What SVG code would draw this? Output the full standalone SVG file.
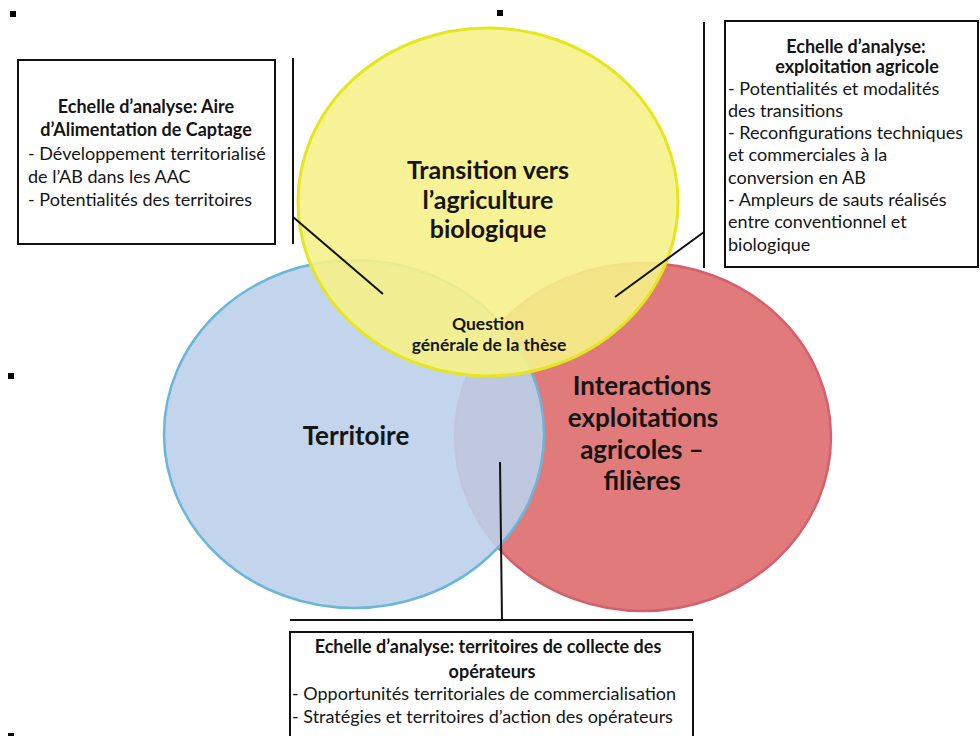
<svg xmlns="http://www.w3.org/2000/svg" width="980" height="736" viewBox="0 0 980 736">
<style>
.box{fill:#fff;stroke:#111;stroke-width:2}
.ln{stroke:#111;stroke-width:2;fill:none}
.t{font-family:Lato,"Open Sans","Liberation Sans",sans-serif;fill:#151515}
.h{font-size:18px;font-weight:bold;text-anchor:middle}
.b{font-size:18px}
.big{font-size:26px;font-weight:bold;text-anchor:middle}
.q{font-size:17.5px;font-weight:bold;text-anchor:middle}
.mk{fill:#000}
</style>
<rect width="980" height="736" fill="#fff"/>
<g id="markers">
<rect class="mk" x="10" y="11" width="6" height="6"/>
<rect class="mk" x="497" y="10" width="6" height="6"/>
<rect class="mk" x="8" y="373" width="6" height="6"/>
<rect class="mk" x="8" y="733" width="6" height="3"/>
<rect class="mk" x="498" y="733" width="5" height="3"/>
</g>
<g id="circle-filieres">
<ellipse cx="643" cy="437" rx="188" ry="174" fill="#e07a7b" stroke="#d4606e" stroke-width="2.5"/>
</g>
<g id="circle-territoire">
<ellipse cx="354" cy="434" rx="190" ry="174" fill="#bdd0ea" fill-opacity="0.9" stroke="#6ab6d8" stroke-width="2.5"/>
</g>
<g id="circle-transition">
<ellipse cx="488" cy="202" rx="190" ry="174" fill="#f6f18a" fill-opacity="0.9" stroke="#e6e61e" stroke-width="3"/>
</g>
<g id="connectors">
<line class="ln" x1="293" y1="58" x2="293" y2="244"/>
<line class="ln" x1="293" y1="217" x2="383" y2="294"/>
<line class="ln" x1="704" y1="22" x2="704" y2="268"/>
<line class="ln" x1="704" y1="232" x2="615" y2="297"/>
<line class="ln" x1="500" y1="462" x2="502" y2="620"/>
<line class="ln" x1="290" y1="620" x2="693" y2="620"/>
</g>
<g id="label-transition" class="t big" style="font-size:25px">
<text x="488" y="179">Transition vers</text>
<text x="488" y="209">l’agriculture</text>
<text x="488" y="238">biologique</text>
</g>
<g id="label-question" class="t q">
<text x="488" y="330">Question</text>
<text x="489" y="351">générale de la thèse</text>
</g>
<g id="label-territoire" class="t big">
<text x="356" y="445">Territoire</text>
</g>
<g id="label-filieres" class="t big">
<text x="642" y="395">Interactions</text>
<text x="643" y="427">exploitations</text>
<text x="642" y="459">agricoles –</text>
<text x="642" y="490">filières</text>
</g>
<g id="box-aac">
<rect class="box" x="18" y="60" width="257" height="184"/>
<g class="t">
<text class="h" x="146" y="113">Echelle d’analyse: Aire</text>
<text class="h" x="146" y="136">d’Alimentation de Captage</text>
<text class="b" x="28" y="160">- Développement territorialisé</text>
<text class="b" x="28" y="183">de l’AB dans les AAC</text>
<text class="b" x="28" y="206">- Potentialités des territoires</text>
</g>
</g>
<g id="box-exploitation">
<rect class="box" x="725" y="21" width="253" height="246"/>
<g class="t">
<text class="h" x="856" y="53">Echelle d’analyse:</text>
<text class="h" x="857" y="73">exploitation agricole</text>
<text class="b" x="728" y="95">- Potentialités et modalités</text>
<text class="b" x="728" y="117">des transitions</text>
<text class="b" x="728" y="139">- Reconfigurations techniques</text>
<text class="b" x="728" y="161">et commerciales à la</text>
<text class="b" x="728" y="184">conversion en AB</text>
<text class="b" x="728" y="206">- Ampleurs de sauts réalisés</text>
<text class="b" x="728" y="228">entre conventionnel et</text>
<text class="b" x="728" y="251">biologique</text>
</g>
</g>
<g id="box-operateurs">
<rect class="box" x="290" y="632" width="403" height="120"/>
<g class="t">
<text class="h" x="488" y="653">Echelle d’analyse: territoires de collecte des</text>
<text class="h" x="492" y="678">opérateurs</text>
<text class="b" x="292" y="700">- Opportunités territoriales de commercialisation</text>
<text class="b" x="292" y="723">- Stratégies et territoires d’action des opérateurs</text>
</g>
</g>
</svg>
